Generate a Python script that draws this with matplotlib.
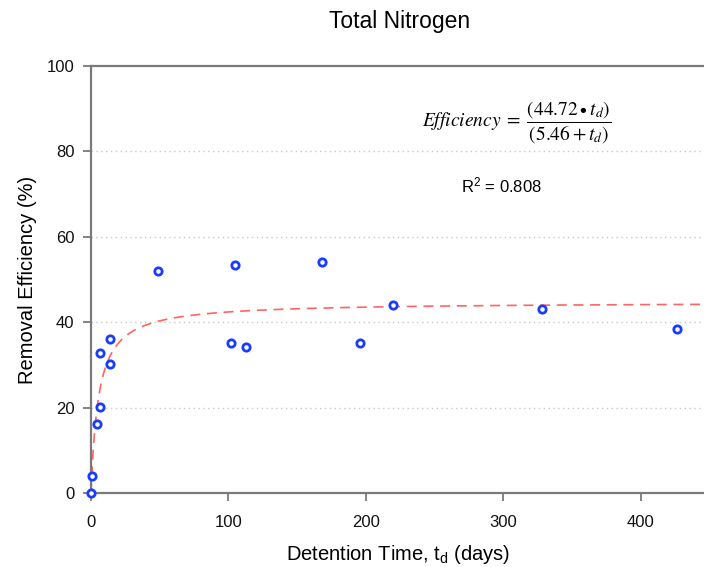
"""
Total Nitrogen removal efficiency vs detention time
"""

import numpy as np
import matplotlib
matplotlib.use("Agg")
import matplotlib.pyplot as plt

plt.rcParams['font.family'] = ['Liberation Sans', 'DejaVu Sans']
plt.rcParams['mathtext.fontset'] = 'custom'
plt.rcParams['mathtext.rm'] = 'Liberation Sans'
plt.rcParams['mathtext.it'] = 'Liberation Sans:italic'

detention_days = [0, 0.7, 4.5, 6.5, 6.5, 14, 14, 49, 102, 105, 113, 168, 196, 220, 328, 426]
removal_pct = [0, 4.0, 16.2, 20.2, 32.9, 30.3, 36.1, 52.1, 35.2, 53.3, 34.3, 54.2, 35.2, 44.1, 43.2, 38.3]

# Fitted model parameters
fit_a = 44.72
fit_b = 5.46
r_squared = 0.808

x_ticks = [0, 100, 200, 300, 400]
y_ticks = [0, 20, 40, 60, 80, 100]

fig = plt.figure(figsize=(7.04, 5.67), dpi=100)
ax = fig.add_axes([0.1293, 0.1305, 0.8707, 0.7531])

# Grid
for g in [20, 40, 60, 80]:
    ax.axhline(g, color='#c8c8c8', linestyle=(0, (1, 2.5)), linewidth=1.0, zorder=0)

# Fit curve
t_fit = np.linspace(0, 460, 800)
eff_fit = fit_a * t_fit / (fit_b + t_fit)
ax.plot(t_fit, eff_fit, color='#ff6464', linestyle=(0, (6, 4)), linewidth=1.2, zorder=2)

# Data points
ax.scatter(detention_days, removal_pct, s=28, facecolors='white', edgecolors='#1a3cff',
           linewidths=2.0, zorder=3, clip_on=False)

ax.set_xlim(0, 446)
ax.set_ylim(0, 100)
ax.set_xticks(x_ticks)
ax.set_yticks(y_ticks)

for side in ['left', 'bottom', 'top']:
    ax.spines[side].set_color('#7a7a7a')
    ax.spines[side].set_linewidth(1.6)
ax.spines['right'].set_visible(False)
ax.tick_params(axis='both', direction='out', length=6, width=1.3, color='#7a7a7a',
               labelsize=12, labelcolor='#111111')
ax.tick_params(axis='x', pad=10)
ax.tick_params(axis='y', pad=6)

ax.set_xlabel('Detention Time, t$_{\\mathrm{d}}$ (days)', fontsize=14.5, labelpad=9)
ax.set_ylabel('Removal Efficiency (%)', fontsize=14.5, labelpad=7)
fig.text(0.568, 0.962, 'Total Nitrogen', ha='center', va='center', fontsize=16.5)

# Equation and R^2
ax.text(0.695, 0.866,
        r'$\mathit{Efficiency}\;=\;\dfrac{(44.72\bullet t_d)}{(5.46+t_d)}$',
        transform=ax.transAxes, ha='center', va='center', fontsize=14,
        math_fontfamily='stix')
ax.text(0.67, 0.72, 'R$^{2}$ = %.3f' % r_squared, transform=ax.transAxes,
        ha='center', va='center', fontsize=12)

plt.savefig('out.png', dpi=100)
plt.close()
